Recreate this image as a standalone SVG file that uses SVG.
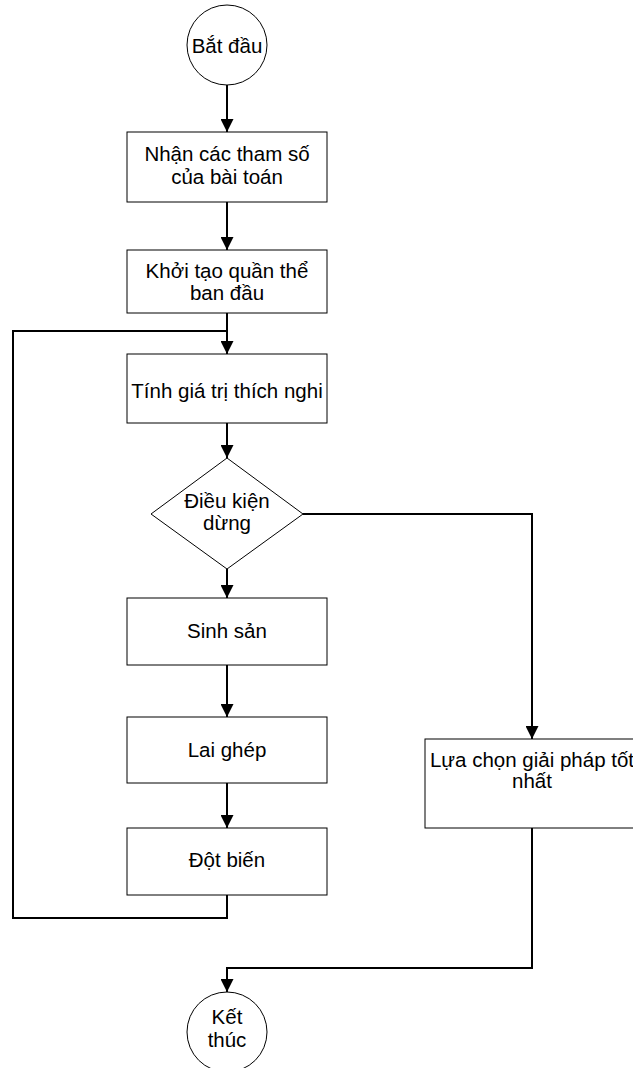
<svg xmlns="http://www.w3.org/2000/svg" width="633" height="1068" viewBox="0 0 633 1068">
  <style>
    .shape { fill: #ffffff; stroke: #000000; stroke-width: 1; }
    .lbl { font-family: "Liberation Sans", Arial, sans-serif; font-size: 20.5px; fill: #000000; text-anchor: middle; }
    .wire { fill: none; stroke: #000000; stroke-width: 2; }
  </style>
  <defs>
    <marker id="arrow" markerUnits="userSpaceOnUse" markerWidth="13" markerHeight="13" refX="13" refY="6.5" orient="auto">
      <path d="M0,0 L13,6.5 L0,13 Z" fill="#000000"/>
    </marker>
  </defs>

  <!-- connectors -->
  <g id="connectors">
    <line class="wire" x1="227" y1="85" x2="227" y2="132" marker-end="url(#arrow)"/>
    <line class="wire" x1="227" y1="202" x2="227" y2="250" marker-end="url(#arrow)"/>
    <line class="wire" x1="227" y1="313" x2="227" y2="354" marker-end="url(#arrow)"/>
    <polyline class="wire" points="227,895 227,918 13,918 13,331 227,331"/>
    <line class="wire" x1="227" y1="423" x2="227" y2="458" marker-end="url(#arrow)"/>
    <line class="wire" x1="227" y1="569" x2="227" y2="598" marker-end="url(#arrow)"/>
    <line class="wire" x1="227" y1="665" x2="227" y2="717" marker-end="url(#arrow)"/>
    <line class="wire" x1="227" y1="783" x2="227" y2="828" marker-end="url(#arrow)"/>
    <polyline class="wire" points="303,514 532,514 532,739" marker-end="url(#arrow)"/>
    <polyline class="wire" points="532,828 532,968 227,968 227,992" marker-end="url(#arrow)"/>
  </g>

  <!-- start -->
  <g id="start">
    <circle class="shape" cx="227" cy="45" r="40"/>
    <text class="lbl" x="227" y="53">Bắt đầu</text>
  </g>

  <g id="input">
    <rect class="shape" x="127" y="132" width="200" height="70"/>
    <text class="lbl" x="227" y="161">Nhận các tham số</text>
    <text class="lbl" x="227" y="184">của bài toán</text>
  </g>

  <g id="init">
    <rect class="shape" x="127" y="250" width="200" height="63"/>
    <text class="lbl" x="227" y="278">Khởi tạo quần thể</text>
    <text class="lbl" x="227" y="300">ban đầu</text>
  </g>

  <g id="fitness">
    <rect class="shape" x="127" y="354" width="200" height="69"/>
    <text class="lbl" x="227" y="398">Tính giá trị thích nghi</text>
  </g>

  <g id="stop-check">
    <polygon class="shape" points="227,458 303,514 227,569 151,514"/>
    <text class="lbl" x="227" y="508">Điều kiện</text>
    <text class="lbl" x="227" y="530">dừng</text>
  </g>

  <g id="reproduce">
    <rect class="shape" x="127" y="598" width="200" height="67"/>
    <text class="lbl" x="227" y="638">Sinh sản</text>
  </g>

  <g id="crossover">
    <rect class="shape" x="127" y="717" width="200" height="66"/>
    <text class="lbl" x="227" y="757">Lai ghép</text>
  </g>

  <g id="mutation">
    <rect class="shape" x="127" y="828" width="200" height="67"/>
    <text class="lbl" x="227" y="867">Đột biến</text>
  </g>

  <g id="select-best">
    <rect class="shape" x="425" y="739" width="214" height="89"/>
    <text class="lbl" x="532" y="767">Lựa chọn giải pháp tốt</text>
    <text class="lbl" x="532" y="788">nhất</text>
  </g>

  <!-- end -->
  <g id="end">
    <circle class="shape" cx="227" cy="1032" r="40"/>
    <text class="lbl" x="227" y="1024">Kết</text>
    <text class="lbl" x="227" y="1047">thúc</text>
  </g>
</svg>
